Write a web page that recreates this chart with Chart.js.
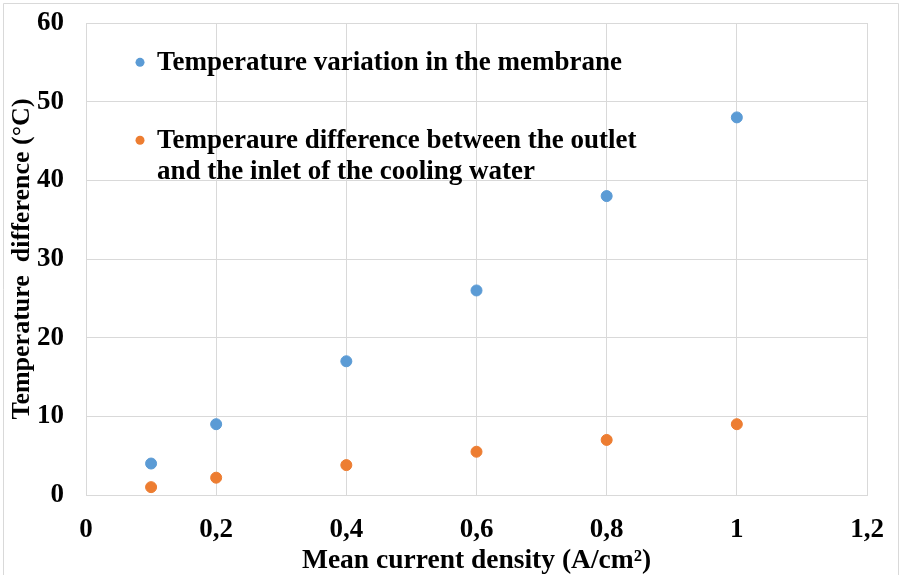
<!DOCTYPE html>
<html>
<head>
<meta charset="utf-8">
<script src="https://cdn.jsdelivr.net/npm/chart.js@4.4.0/dist/chart.umd.min.js"></script>
<style>
  html, body { margin: 0; padding: 0; background: #fff; }
  #wrap { width: 903px; height: 575px; position: relative; }
</style>
</head>
<body>
<div id="wrap"><canvas id="chart" width="903" height="575"></canvas></div>
<script>
const currentDensity = [0.1, 0.2, 0.4, 0.6, 0.8, 1.0];
const membraneDelta = [4, 9, 17, 26, 38, 48];
const coolingDelta = [1, 2.2, 3.8, 5.5, 7, 9];
const seriesNames = [
    ['Temperature variation in the membrane'],
    ['Temperaure difference between the outlet', 'and the inlet of the cooling water']
];
const seriesColors = ['#5B9BD5', '#ED7D31'];
const xTitle = 'Mean current density (A/cm²)';
const yTitle = 'Temperature  difference (°C)';

const FONT = '"Liberation Serif", "Times New Roman", serif';

function toPoints(ys) {
    return currentDensity.map((x, i) => ({ x: x, y: ys[i] }));
}

// frame around the picture (bottom edge is cut off) + legend drawn inside the plot
const decorations = {
    id: 'decorations',
    beforeDraw(chart) {
        const c = chart.ctx;
        c.save();
        c.fillStyle = '#fff';
        c.fillRect(0, 0, chart.width, chart.height);
        c.strokeStyle = '#d9d9d9';
        c.lineWidth = 1;
        c.beginPath();
        c.moveTo(3.5, chart.height);
        c.lineTo(3.5, 3.5);
        c.lineTo(chart.width - 4.5, 3.5);
        c.lineTo(chart.width - 4.5, chart.height);
        c.stroke();
        c.restore();
    },
    afterDraw(chart) {
        const c = chart.ctx;
        const xs = chart.scales.x, ys = chart.scales.y;
        const anchors = [
            { x: 0.083, y: 55.0 },
            { x: 0.083, y: 45.1 }
        ];
        c.save();
        c.font = 'bold 27px ' + FONT;
        c.textBaseline = 'middle';
        anchors.forEach((a, i) => {
            const px = xs.getPixelForValue(a.x);
            const py = ys.getPixelForValue(a.y);
            c.beginPath();
            c.arc(px, py, 4.5, 0, Math.PI * 2);
            c.fillStyle = seriesColors[i];
            c.fill();
            c.fillStyle = '#000';
            seriesNames[i].forEach((line, j) => {
                c.fillText(line, px + 17, py + 1 + j * 31);
            });
        });
        c.restore();
    }
};

new Chart(document.getElementById('chart'), {
    type: 'scatter',
    data: {
        datasets: [
            {
                label: seriesNames[0].join(' '),
                data: toPoints(membraneDelta),
                backgroundColor: seriesColors[0],
                borderColor: seriesColors[0],
                pointRadius: 5.5
            },
            {
                label: seriesNames[1].join(' '),
                data: toPoints(coolingDelta),
                backgroundColor: seriesColors[1],
                borderColor: seriesColors[1],
                pointRadius: 5.5
            }
        ]
    },
    options: {
        responsive: false,
        animation: false,
        layout: { padding: { top: 23, right: 36, left: 0, bottom: 0 } },
        plugins: {
            legend: { display: false },
            tooltip: { enabled: false }
        },
        scales: {
            x: {
                type: 'linear',
                min: 0,
                max: 1.2,
                ticks: {
                    stepSize: 0.2,
                    padding: 19,
                    color: '#000',
                    font: { family: FONT, size: 27, weight: 'bold' },
                    callback: v => String(Math.round(v * 10) / 10).replace('.', ',')
                },
                grid: { color: '#d9d9d9', drawTicks: false },
                border: { color: '#d9d9d9' },
                title: {
                    display: true,
                    text: xTitle,
                    color: '#000',
                    font: { family: FONT, size: 27.5, weight: 'bold' },
                    padding: { top: 0, bottom: -2 }
                },
                afterFit(scale) {
                    scale.height = 80;
                    scale.paddingLeft = 0;
                    scale.paddingRight = 0;
                }
            },
            y: {
                min: 0,
                max: 60,
                ticks: {
                    stepSize: 10,
                    padding: 22,
                    color: '#000',
                    font: { family: FONT, size: 27, weight: 'bold' }
                },
                grid: { color: '#d9d9d9', drawTicks: false },
                border: { color: '#d9d9d9' },
                title: {
                    display: true,
                    text: yTitle,
                    color: '#000',
                    font: { family: FONT, size: 26, weight: 'bold' },
                    padding: { top: 7, bottom: 0 }
                },
                afterFit(scale) {
                    scale.width = 86;
                    scale.paddingTop = 0;
                    scale.paddingBottom = 0;
                }
            }
        }
    },
    plugins: [decorations]
});
</script>
</body>
</html>
